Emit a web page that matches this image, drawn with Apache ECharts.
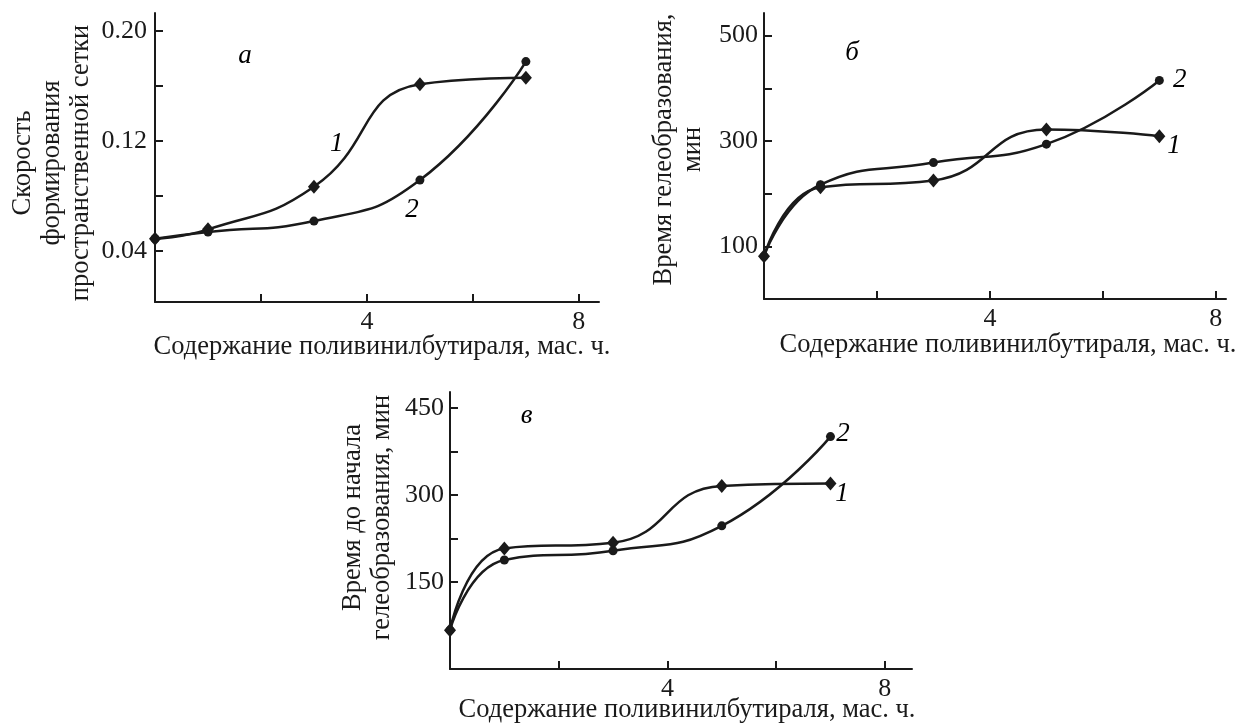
<!DOCTYPE html>
<html>
<head>
<meta charset="utf-8">
<script src="https://cdn.jsdelivr.net/npm/echarts@6/dist/echarts.min.js"></script>
<style>
  html, body { margin: 0; padding: 0; background: #fff; }
  #chart { width: 1241px; height: 723px; }
</style>
</head>
<body>
<div id="chart"></div>
<script>
// Три панели: а — скорость формирования сетки, б — время гелеобразования, в — время до начала гелеобразования
const xVals = [0, 1, 3, 5, 7];

const a1 = [0.049, 0.0558, 0.0868, 0.1612, 0.166];
const a2 = [0.049, 0.0538, 0.0618, 0.0916, 0.1777];
const b1 = [81, 212, 225, 322, 309];
const b2 = [81, 217, 259, 294, 415];
const c1 = [67, 208, 218, 316, 320];
const c2 = [67, 188, 204, 247, 401];

const xTicks = [2, 4, 6, 8];
const xLabels = [4, 8];
const aTicks = [0.04, 0.08, 0.12, 0.16, 0.20];
const aLabels = [0.04, 0.12, 0.20];
const bTicks = [100, 200, 300, 400, 500];
const bLabels = [100, 300, 500];
const cTicks = [150, 225, 300, 375, 450];
const cLabels = [150, 300, 450];

const xName = 'Содержание поливинилбутираля, мас. ч.';
const yNames = [
  'Скорость\nформирования\nпространственной сетки',
  'Время гелеобразования,\nмин',
  'Время до начала\nгелеобразования, мин',
];
// подписи кривых и букв панелей в координатах данных: [x, y, текст]
const aNotes = [[1.70, 0.182, 'а'], [3.43, 0.118, '1'], [4.85, 0.0696, '2']];
const bNotes = [[1.56, 468, 'б'], [7.36, 416, '2'], [7.26, 291, '1']];
const cNotes = [[1.41, 437, 'в'], [7.23, 406, '2'], [7.21, 303, '1']];

const INK = '#1a1a1a';
const FONT = '"Liberation Serif", "DejaVu Serif", serif';

const grids = [
  { left: 155, top: 13, width: 444, height: 289, outerBoundsMode: 'none' },
  { left: 764, top: 13, width: 462, height: 286, outerBoundsMode: 'none' },
  { left: 450, top: 392, width: 462, height: 277, outerBoundsMode: 'none' },
];
const xMax = [8.38, 8.18, 8.5];
const yRange = [[0.003, 0.213], [0, 543], [0, 478]];
const yTickSets = [aTicks, bTicks, cTicks];
const yLabelSets = [aLabels, bLabels, cLabels];
const yMargins = [8, 6, 6];
const yGaps = [59, 56, 53];
const yPads = [[0, 11, 0, 0], [0, 0, 0, 13], [0, 0, 0, 26]];
const xGaps = [32, 33, 28];
const xPads = [[0, 0, 0, 10], [0, 0, 0, 26], [0, 0, 0, 12]];

const pts = ys => xVals.map((x, i) => [x, ys[i]]);

function curve(idx, ys, sym) {
  return {
    type: 'line', xAxisIndex: idx, yAxisIndex: idx, data: pts(ys),
    smooth: 0.5, clip: false,
    symbol: sym, symbolSize: sym === 'diamond' ? [12, 14] : 9,
    showAllSymbol: true,
    lineStyle: { color: INK, width: 2.5 },
    itemStyle: { color: INK, opacity: 1 },
    emphasis: { disabled: true },
  };
}

function notes(idx, list) {
  return {
    type: 'scatter', xAxisIndex: idx, yAxisIndex: idx, symbolSize: 0,
    data: list, silent: true, itemStyle: { color: INK, opacity: 1 },
    label: {
      show: true, position: 'inside', formatter: p => p.data[2], opacity: 1,
      fontFamily: FONT, fontStyle: 'italic', fontSize: 27, color: '#000',
      textBorderWidth: 0, textBorderColor: 'transparent',
    },
  };
}

const axisLine = { show: true, lineStyle: { color: INK, width: 2 } };

const option = {
  animation: false,
  backgroundColor: '#fff',
  grid: grids,
  xAxis: grids.map((g, i) => ({
    type: 'value', gridIndex: i, min: 0, max: xMax[i],
    name: xName, nameLocation: 'middle', nameGap: xGaps[i], nameMoveOverlap: false,
    nameTextStyle: { fontFamily: FONT, fontSize: 26.5, color: INK, padding: xPads[i] },
    axisLine,
    axisTick: { show: true, inside: true, length: 8, customValues: xTicks,
      lineStyle: { color: INK, width: 2 } },
    axisLabel: { customValues: xLabels, margin: 7, fontFamily: FONT, fontSize: 26, color: INK },
    splitLine: { show: false },
  })),
  yAxis: grids.map((g, i) => ({
    type: 'value', gridIndex: i, min: yRange[i][0], max: yRange[i][1],
    name: yNames[i], nameLocation: 'middle', nameGap: yGaps[i], nameMoveOverlap: false,
    nameTextStyle: { fontFamily: FONT, fontSize: 26.5, lineHeight: 29, color: INK, padding: yPads[i] },
    axisLine,
    axisTick: { show: true, inside: true, length: 8, customValues: yTickSets[i],
      lineStyle: { color: INK, width: 2 } },
    axisLabel: { customValues: yLabelSets[i], margin: yMargins[i],
      fontFamily: FONT, fontSize: 26, color: INK,
      formatter: v => (i === 0 ? v.toFixed(2) : String(v)) },
    splitLine: { show: false },
  })),
  series: [
    curve(0, a1, 'diamond'), curve(0, a2, 'circle'), notes(0, aNotes),
    curve(1, b2, 'circle'), curve(1, b1, 'diamond'), notes(1, bNotes),
    curve(2, c1, 'diamond'), curve(2, c2, 'circle'), notes(2, cNotes),
  ],
};

const chart = echarts.init(document.getElementById('chart'), null, { renderer: 'canvas' });
chart.setOption(option);
</script>
</body>
</html>
